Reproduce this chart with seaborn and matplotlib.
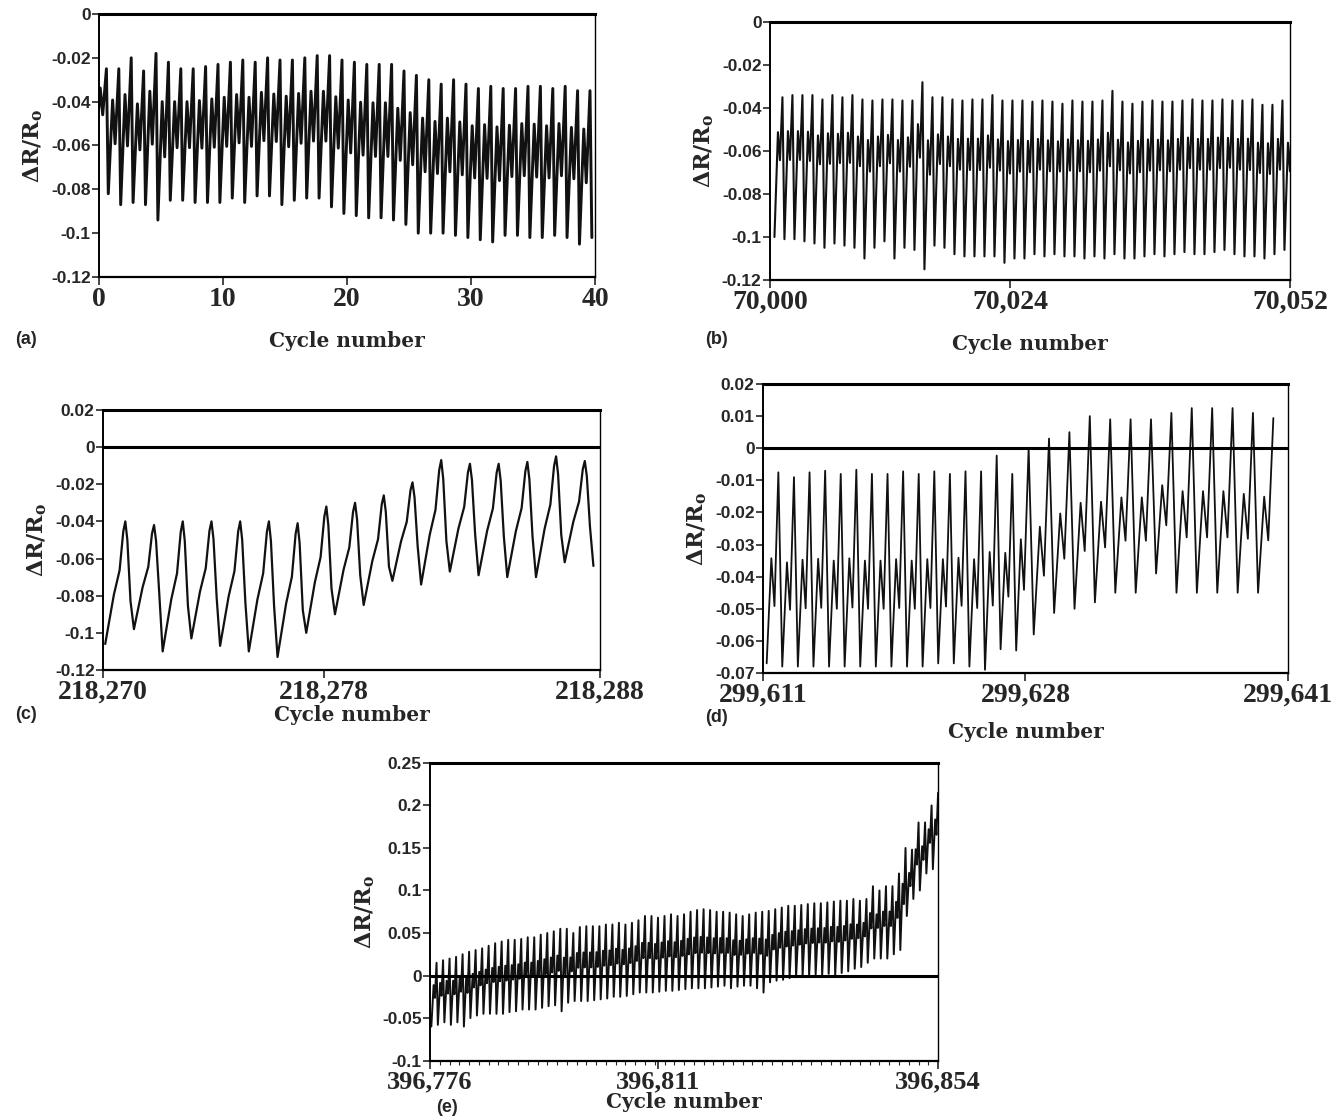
import numpy as np
import pandas as pd
import matplotlib
matplotlib.use('Agg')
import matplotlib.pyplot as plt
import seaborn as sns
from matplotlib.ticker import FixedLocator, FuncFormatter

# ---- panel (a): cycles 0-40 (peak / deep trough of each cycle)
a_start, a_period = -0.25, 1.0
a_peaks = [-0.025, -0.025, -0.020, -0.026, -0.018, -0.022, -0.025, -0.025, -0.024, -0.023,
           -0.022, -0.021, -0.022, -0.020, -0.021, -0.021, -0.020, -0.019, -0.019, -0.021,
           -0.022, -0.023, -0.023, -0.023, -0.026, -0.028, -0.030, -0.032, -0.030, -0.032,
           -0.034, -0.033, -0.034, -0.034, -0.033, -0.033, -0.034, -0.033, -0.035, -0.035]
a_troughs = [-0.060, -0.082, -0.087, -0.086, -0.087, -0.094, -0.085, -0.085, -0.086, -0.086,
             -0.086, -0.084, -0.086, -0.083, -0.083, -0.087, -0.085, -0.084, -0.084, -0.088,
             -0.091, -0.092, -0.093, -0.093, -0.094, -0.096, -0.100, -0.100, -0.100, -0.101,
             -0.102, -0.103, -0.104, -0.101, -0.101, -0.102, -0.102, -0.101, -0.102, -0.105,
             -0.102]
a_ticks = [0, 10, 20, 30, 40]
a_yticks = [0, -0.02, -0.04, -0.06, -0.08, -0.1, -0.12]

# ---- panel (b): cycles 70,000-70,052
b_start, b_period = 70000.45, 1.0
b_peaks = [-0.035, -0.034, -0.034, -0.034, -0.036, -0.034, -0.035, -0.034, -0.036, -0.0365,
           -0.036, -0.036, -0.0365, -0.0365, -0.028, -0.035, -0.035, -0.036, -0.0365, -0.036,
           -0.036, -0.034, -0.0365, -0.0365, -0.0365, -0.037, -0.0365, -0.037, -0.038, -0.0365,
           -0.037, -0.037, -0.0365, -0.032, -0.037, -0.038, -0.037, -0.0365, -0.037, -0.037,
           -0.0365, -0.036, -0.0365, -0.0365, -0.036, -0.0365, -0.0365, -0.036, -0.0385, -0.0385,
           -0.0365, -0.0395]
b_troughs = [-0.100, -0.101, -0.101, -0.102, -0.103, -0.105, -0.103, -0.104, -0.105, -0.110,
             -0.105, -0.102, -0.110, -0.105, -0.106, -0.115, -0.104, -0.105, -0.108, -0.109,
             -0.109, -0.109, -0.109, -0.112, -0.110, -0.110, -0.108, -0.109, -0.108, -0.109,
             -0.109, -0.110, -0.109, -0.110, -0.108, -0.110, -0.110, -0.109, -0.108, -0.109,
             -0.108, -0.107, -0.108, -0.108, -0.107, -0.106, -0.108, -0.109, -0.109, -0.110,
             -0.108, -0.106, -0.108]
b_ticks = [70000, 70024, 70052]
b_yticks = a_yticks

# ---- panel (c): cycles 218,270-218,288
c_start, c_period = 218270.08, 1.04
c_peaks = [-0.040, -0.042, -0.040, -0.040, -0.040, -0.040, -0.041, -0.032, -0.030, -0.026,
           -0.019, -0.007, -0.009, -0.009, -0.008, -0.005, -0.0075]
c_troughs = [-0.106, -0.098, -0.110, -0.103, -0.107, -0.110, -0.113, -0.100, -0.090, -0.085,
             -0.072, -0.074, -0.067, -0.069, -0.070, -0.070, -0.062, -0.064]
c_ticks = [218270, 218278, 218288]
c_yticks = [0.02, 0, -0.02, -0.04, -0.06, -0.08, -0.1, -0.12]

# ---- panel (d): cycles 299,611-299,641 (axis is stretched after 299,628)
d_start, d_period = 299611.24, 1.01
d_peaks = [-0.0075, -0.009, -0.0075, -0.007, -0.008, -0.0067, -0.008, -0.008, -0.0072, -0.008,
           -0.0072, -0.008, -0.0072, -0.0072, -0.0023, -0.008, 0.0, 0.003, 0.005, 0.010,
           0.009, 0.009, 0.009, 0.011, 0.0125, 0.0125, 0.0125, 0.011, 0.0094]
d_troughs = [-0.067, -0.068, -0.068, -0.068, -0.068, -0.068, -0.068, -0.068, -0.068, -0.068,
             -0.068, -0.067, -0.067, -0.068, -0.069, -0.0626, -0.063, -0.058, -0.0513, -0.050,
             -0.048, -0.045, -0.045, -0.039, -0.045, -0.045, -0.045, -0.045, -0.045]
d_ticks = [299611, 299628, 299641]
d_tick_frac = [0, 0.5, 1]
d_yticks = [0.02, 0.01, 0, -0.01, -0.02, -0.03, -0.04, -0.05, -0.06, -0.07]

# ---- panel (e): cycles 396,776-396,854
e_start, e_period = 396776.2, 1.0
e_peaks = [0.015, 0.018, 0.020, 0.022, 0.025, 0.028, 0.030, 0.032, 0.035, 0.038,
           0.040, 0.042, 0.042, 0.043, 0.045, 0.045, 0.048, 0.050, 0.052, 0.055,
           0.055, 0.050, 0.057, 0.058, 0.058, 0.058, 0.060, 0.060, 0.062, 0.060,
           0.062, 0.065, 0.070, 0.070, 0.068, 0.070, 0.072, 0.070, 0.072, 0.075,
           0.077, 0.078, 0.077, 0.075, 0.075, 0.074, 0.072, 0.070, 0.072, 0.074,
           0.075, 0.076, 0.078, 0.080, 0.082, 0.082, 0.083, 0.084, 0.085, 0.085,
           0.086, 0.087, 0.088, 0.088, 0.090, 0.088, 0.090, 0.105, 0.100, 0.105,
           0.105, 0.120, 0.150, 0.148, 0.180, 0.180, 0.200, 0.215]
e_troughs = [-0.060, -0.058, -0.055, -0.058, -0.055, -0.060, -0.050, -0.047, -0.045, -0.045,
             -0.045, -0.045, -0.043, -0.042, -0.040, -0.040, -0.040, -0.038, -0.036, -0.035,
             -0.042, -0.032, -0.030, -0.030, -0.030, -0.029, -0.028, -0.027, -0.025, -0.025,
             -0.024, -0.022, -0.020, -0.020, -0.020, -0.019, -0.018, -0.018, -0.017, -0.016,
             -0.015, -0.015, -0.015, -0.014, -0.013, -0.012, -0.015, -0.013, -0.012, -0.012,
             -0.015, -0.020, -0.008, -0.006, -0.005, -0.003, -0.002, 0.000, 0.000, 0.001,
             0.000, 0.002, 0.000, 0.003, 0.005, 0.008, 0.010, 0.015, 0.020, 0.020,
             0.020, 0.025, 0.030, 0.070, 0.090, 0.100, 0.120, 0.125]
e_ticks = [396776, 396811, 396854]
e_yticks = [0.25, 0.2, 0.15, 0.1, 0.05, 0, -0.05, -0.1]

# waveform of one cycle: fraction of the cycle vs. level between trough (0) and peak (1)
sharp_phase, sharp_level = [0, 0.35, 0.55, 0.85], [0, 0.75, 0.4, 1]
b_phase, b_level = [0, 0.35, 0.55, 0.8], [0, 0.75, 0.55, 1]
c_phase = [0, 0.3, 0.5, 0.63, 0.7, 0.77, 0.88]
c_level = [0, 0.4, 0.6, 0.92, 1.0, 0.85, 0.35]
d_phase, d_level = [0, 0.3, 0.5, 0.75], [0, 0.55, 0.3, 1]
e_phase, e_level = [0, 0.35, 0.55, 0.8], [0, 0.65, 0.45, 1]


def build_wave(start, period, peaks, troughs, phases, levels):
    xs, ys = [], []
    for i, pk in enumerate(peaks):
        tr = troughs[i]
        for ph, lv in zip(phases, levels):
            xs.append(start + (i + ph) * period)
            ys.append(tr + lv * (pk - tr))
    if len(troughs) > len(peaks):
        xs.append(start + len(peaks) * period)
        ys.append(troughs[-1])
    return pd.DataFrame({'cycle': xs, 'dr': ys})


def d_fwd(x):
    x = np.asarray(x, float)
    return np.where(x < d_ticks[1],
                    (x - d_ticks[0]) * (d_tick_frac[1] / (d_ticks[1] - d_ticks[0])),
                    d_tick_frac[1] + (x - d_ticks[1]) * ((1 - d_tick_frac[1]) / (d_ticks[2] - d_ticks[1])))


def d_inv(u):
    u = np.asarray(u, float)
    return np.where(u < d_tick_frac[1],
                    d_ticks[0] + u * (d_ticks[1] - d_ticks[0]) / d_tick_frac[1],
                    d_ticks[1] + (u - d_tick_frac[1]) * (d_ticks[2] - d_ticks[1]) / (1 - d_tick_frac[1]))


sns.set_style('ticks')
plt.rcParams['mathtext.default'] = 'regular'

fig = plt.figure(figsize=(13.43, 11.17), dpi=100)

panels = [
    # rect, data, xlim, ylim, xticks, yticks, line width, zero line, xlabel pad, tick size, tag, tag position
    ([0.0737, 0.7520, 0.3693, 0.2355],
     build_wave(a_start, a_period, a_peaks, a_troughs, sharp_phase, sharp_level),
     (0, 40), (-0.12, 0), a_ticks, a_yticks, 2.1, False, 14, 20, '(a)', (0.011, 0.696)),
    ([0.5733, 0.7493, 0.3872, 0.2310],
     build_wave(b_start, b_period, b_peaks, b_troughs, b_phase, b_level),
     (70000, 70052), (-0.12, 0), b_ticks, b_yticks, 1.5, False, 14, 20, '(b)', (0.525, 0.696)),
    ([0.0767, 0.4002, 0.3701, 0.2328],
     build_wave(c_start, c_period, c_peaks, c_troughs, c_phase, c_level),
     (218270, 218288), (-0.12, 0.02), c_ticks, c_yticks, 1.6, True, 0, 20, '(c)', (0.011, 0.360)),
    ([0.5681, 0.3975, 0.3909, 0.2587],
     build_wave(d_start, d_period, d_peaks, d_troughs, d_phase, d_level),
     (299611, 299641), (-0.07, 0.02), d_ticks, d_yticks, 1.3, True, 10, 20, '(d)', (0.525, 0.358)),
    ([0.3202, 0.0505, 0.3783, 0.2665],
     build_wave(e_start, e_period, e_peaks, e_troughs, e_phase, e_level),
     (396776, 396854), (-0.1, 0.25), e_ticks, e_yticks, 1.4, True, -1, 19, '(e)', (0.325, 0.0085)),
]

serif = 'DejaVu Serif'
tick_serif = 'Liberation Serif'
sans = 'Liberation Sans'

for k, (rect, df, xlim, ylim, xt, yt, lw, zero, pad, tsize, tag, tagpos) in enumerate(panels):
    ax = fig.add_axes(rect)
    if k == 3:
        ax.set_xscale('function', functions=(d_fwd, d_inv))
    sns.lineplot(data=df, x='cycle', y='dr', sort=False, estimator=None,
                 color='#111111', linewidth=lw, ax=ax)
    if zero:
        ax.axhline(0, color='black', linewidth=2.2)
    ax.set_xlim(*xlim)
    ax.set_ylim(*ylim)
    ax.xaxis.set_major_locator(FixedLocator(xt))
    ax.xaxis.set_major_formatter(FuncFormatter(lambda v, p: f'{int(round(v)):,}'))
    ax.yaxis.set_major_locator(FixedLocator(yt))
    ax.yaxis.set_major_formatter(FuncFormatter(lambda v, p: f'{v:g}'))
    if k == 4:
        ax.xaxis.set_minor_locator(FixedLocator(np.arange(xlim[0], xlim[1] + 0.01, 1.5)))
        ax.tick_params(axis='x', which='minor', direction='out', length=3, width=0.8)
    ax.tick_params(axis='x', which='major', direction='out', length=6, width=1.2, pad=1)
    ax.tick_params(axis='y', which='major', direction='out', length=5, width=1.2, pad=1)
    for lab in ax.get_xticklabels():
        lab.set_fontfamily(tick_serif)
        lab.set_fontweight('bold')
        lab.set_fontsize(tsize)
    for lab in ax.get_yticklabels():
        lab.set_fontfamily(sans)
        lab.set_fontweight('bold')
        lab.set_fontsize(12.5)
    ax.set_xlabel('Cycle number', fontfamily=serif, fontweight='bold', fontsize=14.5,
                  labelpad=pad)
    ax.set_ylabel('ΔR/R$_\\mathregular{o}$', fontfamily=serif, fontweight='bold',
                  fontsize=16, labelpad=4)
    ax.spines['top'].set_linewidth(2.2)
    ax.spines['bottom'].set_linewidth(1.6)
    ax.spines['left'].set_linewidth(1.4)
    ax.spines['right'].set_linewidth(1.0)
    for s in ax.spines.values():
        s.set_color('black')
    fig.text(tagpos[0], tagpos[1], tag, fontfamily=sans, fontweight='bold',
             fontsize=13, va='center', ha='left')

fig.savefig('out.png', dpi=100, facecolor='white')
